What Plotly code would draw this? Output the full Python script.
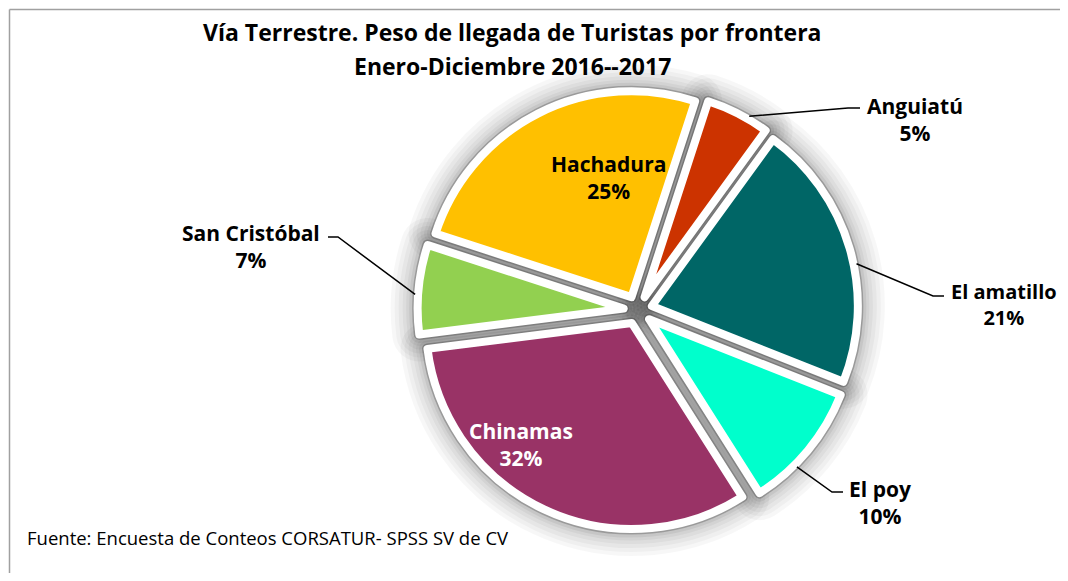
import math
import plotly.graph_objects as go

# ---------------- data ----------------
labels = ["Anguiatú", "El amatillo", "El poy", "Chinamas", "San Cristóbal", "Hachadura"]
values = [5, 21, 10, 32, 7, 25]
colors = ["#CC3300", "#006666", "#00FFCC", "#993366", "#92D050", "#FFC000"]
title_lines = ["Vía Terrestre. Peso de llegada de Turistas por frontera",
               "Enero-Diciembre 2016--2017"]
source_text = "Fuente: Encuesta de Conteos CORSATUR- SPSS SV de CV"

# ---------------- geometry / style ----------------
OFF = 8          # page body margin compensation
W, H = 1068 - 2 * OFF, 581 - 2 * OFF
CX, CY = 638, 310
R = 206
PULL = 0.07
ROT = 18
FONT = "Open Sans"


def px(x):
    return (x - OFF) / W


def py(y):
    return 1 - (y - OFF) / H


half = R * (1 + PULL)
dom_x = [px(CX - half), px(CX + half)]
dom_y = [py(CY + half), py(CY - half)]

fig = go.Figure()

# soft shadow built from layered translucent pies
shadow_layers = [(54, 0.03), (46, 0.03), (38, 0.035), (30, 0.04), (23, 0.045), (17, 0.06), (11, 0.22)]
for lw, alpha in shadow_layers:
    fig.add_trace(go.Pie(
        labels=labels, values=values, sort=False, direction="clockwise",
        rotation=ROT, pull=[PULL] * len(values), domain=dict(x=dom_x, y=dom_y),
        marker=dict(colors=[f"rgba(0,0,0,{alpha})"] * len(values),
                    line=dict(color=f"rgba(0,0,0,{alpha})", width=lw)),
        textinfo="none", hoverinfo="skip", showlegend=False,
    ))

fig.add_trace(go.Pie(
    labels=labels, values=values, sort=False, direction="clockwise",
    rotation=ROT, pull=[PULL] * len(values), domain=dict(x=dom_x, y=dom_y),
    marker=dict(colors=colors, line=dict(color="white", width=8)),
    textinfo="none", hoverinfo="label+percent", showlegend=False,
))

# label placement (pixel positions of text blocks), text colour, size, leader spec
label_style = {
    "Anguiatú": dict(x=915, y=119, color="black", size=21, leader=(0.67, (848, 108), (860, 108))),
    "El amatillo": dict(x=1004, y=304, color="black", size=20, leader=(0.56, (933, 296), (944, 296))),
    "El poy": dict(x=880, y=502, color="black", size=21, leader=(0.65, (832, 492), (843, 492))),
    "Chinamas": dict(x=521, y=444, color="white", size=21, leader=None),
    "San Cristóbal": dict(x=251, y=246, color="black", size=21, leader=(0.44, (338, 237), (328, 237))),
    "Hachadura": dict(x=608, y=177, color="black", size=21, leader=None),
}

total = sum(values)
start = ROT
annotations = []
shapes = []
for lab, val in zip(labels, values):
    span = 360 * val / total
    a0, a1 = start, start + span
    start = a1
    mid = math.radians((a0 + a1) / 2)
    ocx = CX + R * PULL * math.sin(mid)
    ocy = CY - R * PULL * math.cos(mid)
    st = label_style[lab]
    pct = round(100 * val / total)
    annotations.append(dict(
        x=px(st["x"]), y=py(st["y"]), xref="paper", yref="paper",
        xanchor="center", yanchor="middle", showarrow=False,
        text=f"<b>{lab}</b><br><b>{pct}%</b>",
        font=dict(family=FONT, size=st["size"], color=st["color"]),
    ))
    if st["leader"]:
        f, elbow, end = st["leader"]
        ang = math.radians(a0 + f * (a1 - a0))
        ax = ocx + (R + 3) * math.sin(ang)
        ay = ocy - (R + 3) * math.cos(ang)
        shapes.append(dict(
            type="path", xref="paper", yref="paper",
            path=f"M {px(ax)} {py(ay)} L {px(elbow[0])} {py(elbow[1])} L {px(end[0])} {py(end[1])}",
            line=dict(color="black", width=1.5),
        ))

# titles
annotations.append(dict(x=px(512), y=py(32), xref="paper", yref="paper", showarrow=False,
                        xanchor="center", yanchor="middle", text=f"<b>{title_lines[0]}</b>",
                        font=dict(family=FONT, size=23, color="black")))
annotations.append(dict(x=px(512), y=py(66), xref="paper", yref="paper", showarrow=False,
                        xanchor="center", yanchor="middle", text=f"<b>{title_lines[1]}</b>",
                        font=dict(family=FONT, size=23, color="black")))
annotations.append(dict(x=px(25), y=py(537), xref="paper", yref="paper", showarrow=False,
                        xanchor="left", yanchor="middle", text=source_text,
                        font=dict(family=FONT, size=18.5, color="black")))

# chart frame (top and left edges; the rest lies outside the picture)
FR = 9.5
shapes.append(dict(type="line", xref="paper", yref="paper",
                   x0=px(FR), x1=1.0, y0=py(FR), y1=py(FR),
                   line=dict(color="#A0A0A0", width=1.5), layer="below"))
shapes.append(dict(type="line", xref="paper", yref="paper",
                   x0=px(FR), x1=px(FR), y0=py(FR), y1=0.0,
                   line=dict(color="#A0A0A0", width=1.5), layer="below"))

fig.update_layout(
    width=W, height=H, margin=dict(l=0, r=0, t=0, b=0),
    paper_bgcolor="white", plot_bgcolor="white",
    font=dict(family=FONT),
    annotations=annotations, shapes=shapes, showlegend=False,
)

fig.write_html("out.html")
